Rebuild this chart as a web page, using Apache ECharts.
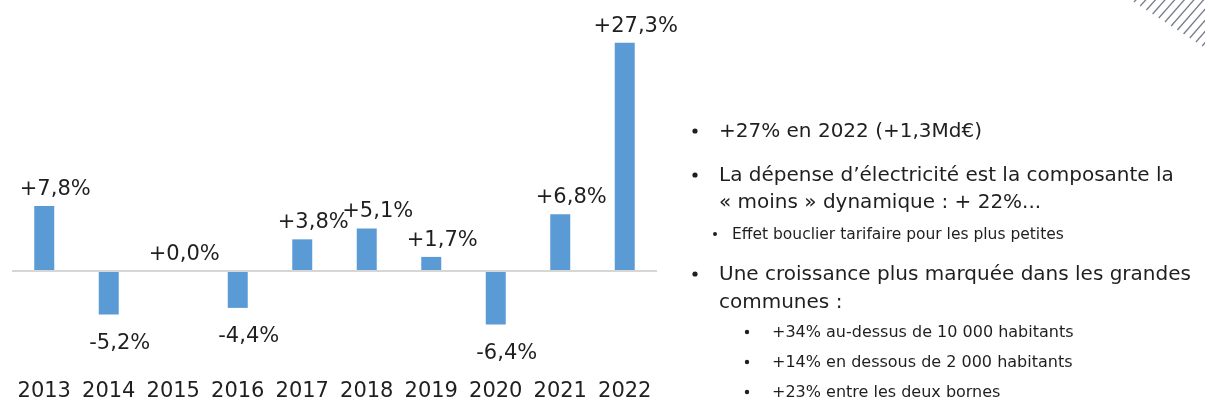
<!DOCTYPE html>
<html>
<head>
<meta charset="utf-8">
<script src="https://cdn.jsdelivr.net/npm/echarts@6/dist/echarts.min.js"></script>
<style>
  html, body { margin: 0; padding: 0; background: #ffffff; }
  #chart { width: 1205px; height: 402px; }
</style>
</head>
<body>
<div id="chart"></div>
<script>
// Annual change in electricity spending (%)
const years = ['2013', '2014', '2015', '2016', '2017', '2018', '2019', '2020', '2021', '2022'];
const changes = [7.8, -5.2, 0.0, -4.4, 3.8, 5.1, 1.7, -6.4, 6.8, 27.3];

// Commentary lines shown beside the bars
const mainBullets = [
  ['+27% en 2022 (+1,3Md€)'],
  ['La dépense d\u2019électricité est la composante la', '\u00ab moins \u00bb dynamique : + 22%...'],
];
const subNote = 'Effet bouclier tarifaire pour les plus petites';
const secondBullet = ['Une croissance plus marquée dans les grandes', 'communes :'];
const subBullets = [
  '+34% au-dessus de 10 000 habitants',
  '+14% en dessous de 2 000 habitants',
  '+23% entre les deux bornes'
];

const FONT = '"DejaVu Sans", sans-serif';
const TEXT = '#1f1f1f';

function fmt(v) {
  return (v >= 0 ? '+' : '') + v.toFixed(1).replace('.', ',') + '%';
}

const barData = changes.map(v => ({
  value: v,
  label: {
    position: v >= 0 ? 'top' : 'bottom',
    distance: v >= 0 ? 6 : 18
  }
}));

// Side text as graphic elements
const graphics = [];
function addText(x, y, text, size) {
  graphics.push({
    type: 'text', x: x, y: y, silent: true,
    style: { text: text, fill: TEXT, font: size + 'px ' + FONT, verticalAlign: 'middle', align: 'left' }
  });
}
function addDot(x, y, r) {
  graphics.push({ type: 'circle', shape: { cx: x, cy: y, r: r }, style: { fill: TEXT }, silent: true });
}

addDot(695, 131, 2.6); addText(719, 132, mainBullets[0][0], 20);
addDot(695, 175, 2.6); addText(719, 176, mainBullets[1][0], 20); addText(719, 203, mainBullets[1][1], 20);
addDot(715, 234, 2); addText(732, 235, subNote, 15.5);
addDot(695, 274, 2.6); addText(719, 275, secondBullet[0], 20); addText(719, 303, secondBullet[1], 20);
[333, 363, 393].forEach((y, i) => { addDot(747, y - 1, 2.2); addText(772, y, subBullets[i], 16); });

// Decorative hatching in the top-right corner
for (let i = 0; i < 12; i++) {
  const bx = 1134 + i * 6.2, by = 2 + i * 4;
  graphics.push({
    type: 'line', silent: true,
    shape: { x1: bx, y1: by, x2: bx + by * 0.85 + 4, y2: -4 },
    style: { stroke: '#767b86', lineWidth: 1.3 }
  });
}

const chart = echarts.init(document.getElementById('chart'), null, { renderer: 'canvas' });
chart.setOption({
  animation: false,
  backgroundColor: '#ffffff',
  grid: { left: 12, right: 548, top: 37, bottom: 64, containLabel: false },
  xAxis: {
    type: 'category',
    data: years,
    axisLine: { show: false },
    axisTick: { show: false },
    axisLabel: { color: TEXT, fontFamily: FONT, fontSize: 21, margin: 43, interval: 0 }
  },
  yAxis: {
    type: 'value', min: -8, max: 28,
    show: false, splitLine: { show: false }
  },
  series: [{
    type: 'bar',
    data: barData,
    barWidth: 20,
    itemStyle: { color: '#5b9bd5' },
    label: {
      show: true, color: TEXT, fontFamily: FONT, fontSize: 21,
      offset: [11, 0],
      formatter: p => fmt(p.value)
    },
    markLine: {
      silent: true, symbol: 'none', label: { show: false },
      lineStyle: { color: '#d6d6d6', width: 2, type: 'solid' },
      data: [{ yAxis: 0 }]
    }
  }],
  graphic: graphics
});
</script>
</body>
</html>
